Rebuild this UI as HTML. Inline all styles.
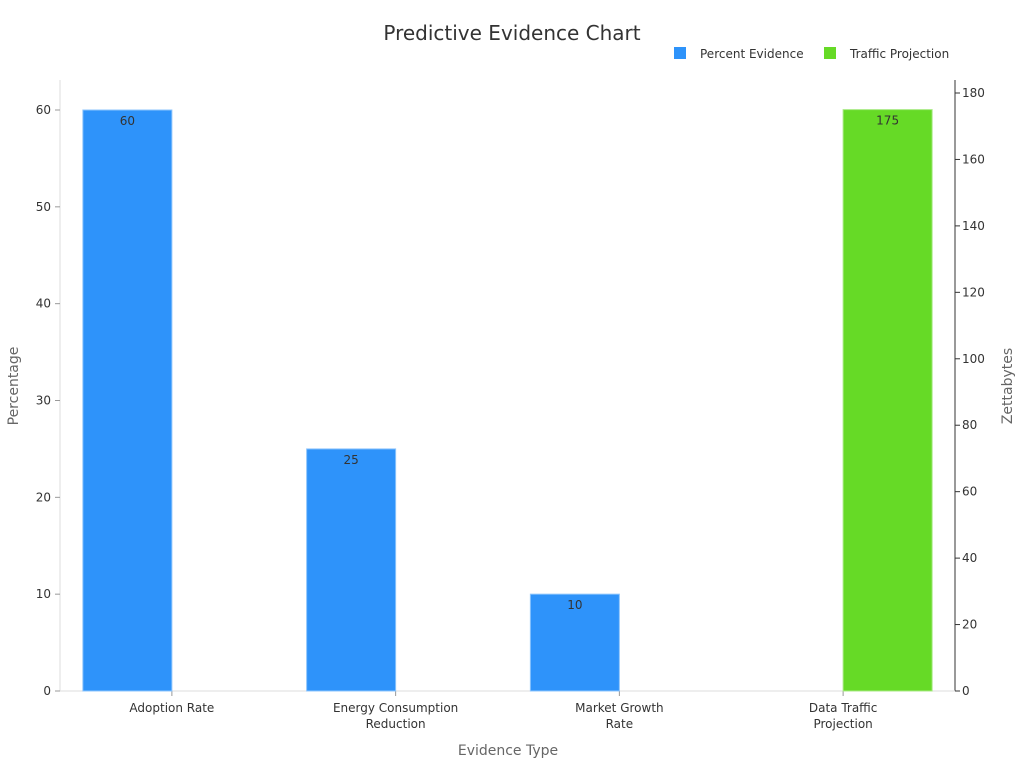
<!DOCTYPE html>
<html><head><meta charset="utf-8"><style>
body{margin:0;background:#fff;font-family:"Liberation Sans","DejaVu Sans",sans-serif;}
svg text{font-family:"DejaVu Sans","Liberation Sans",sans-serif;}
</style></head><body>
<svg id="c" width="1024" height="768">
<text x="512" y="40" text-anchor="middle" font-size="20" fill="#333">Predictive Evidence Chart</text>
<g>
<rect x="674" y="47" width="12" height="12" fill="#2e93fa"/>
<text x="700" y="58" font-size="12" fill="#333">Percent Evidence</text>
<rect x="824" y="47" width="12" height="12" fill="#66da26"/>
<text x="850" y="58" font-size="12" fill="#333">Traffic Projection</text>
</g>
<g id="plot"></g>
<text x="508" y="755" text-anchor="middle" font-size="14" fill="#666">Evidence Type</text>
<text transform="translate(18,386) rotate(-90)" text-anchor="middle" font-size="14" fill="#666">Percentage</text>
<text transform="translate(1012,386) rotate(-90)" text-anchor="middle" font-size="14" fill="#666">Zettabytes</text>
</svg>
<script>
const categories=[["Adoption Rate"],["Energy Consumption","Reduction"],["Market Growth","Rate"],["Data Traffic","Projection"]];
const percentValues=[60,25,10,0];
const trafficValues=[0,0,0,175];
const leftTicks=[0,10,20,30,40,50,60];
const rightTicks=[0,20,40,60,80,100,120,140,160,180];
const NS="http://www.w3.org/2000/svg";
const g=document.getElementById('plot');
const X0=60,X1=955,Y0=691;
const yL=v=>Y0-v*(581/60);
const yR=v=>Y0-v*(598/180);
const step=(X1-X0)/categories.length;
const cx=i=>X0+step*(i+0.5);
const bw=89;
function el(t,a,p){const e=document.createElementNS(NS,t);for(const k in a)e.setAttribute(k,a[k]);(p||g).appendChild(e);return e;}
let e;
e=el('line',{x1:X0,y1:80,x2:X0,y2:Y0,stroke:'#ddd'});


e=el('line',{x1:X1,y1:80,x2:X1,y2:Y0,stroke:'#333'});


e=el('line',{x1:X0,y1:Y0,x2:X1,y2:Y0,stroke:'#ddd'});


leftTicks.forEach(v=>{
 el('line',{x1:55,y1:yL(v),x2:X0,y2:yL(v),stroke:'#999'});
 e=el('text',{x:51,y:yL(v)+4,'text-anchor':'end','font-size':12,fill:'#333'});e.textContent=v;
 
 
});
rightTicks.forEach(v=>{
 el('line',{x1:X1,y1:yR(v),x2:X1+5,y2:yR(v),stroke:'#333'});
 e=el('text',{x:962,y:yR(v)+4,'font-size':12,fill:'#333'});e.textContent=v;
 
 
});
categories.forEach((c,i)=>{
 el('line',{x1:cx(i),y1:Y0,x2:cx(i),y2:Y0+5,stroke:'#999'});
 c.forEach((ln,j)=>{e=el('text',{x:cx(i),y:712+j*16,'text-anchor':'middle','font-size':12,fill:'#333'});e.textContent=ln;
 
 });
 if(percentValues[i]>0){
  const y=yL(percentValues[i]);
  e=el('rect',{x:cx(i)-bw,y:y,width:bw,height:Y0-y,fill:'#2e93fa',stroke:'#8cc4fc','stroke-width':1});
  
  
  e=el('text',{x:cx(i)-bw/2,y:y+15,'text-anchor':'middle','font-size':12,fill:'#333'});e.textContent=percentValues[i];
  
  
 }
 if(trafficValues[i]>0){
  const y=yR(trafficValues[i]);
  e=el('rect',{x:cx(i),y:y,width:bw,height:Y0-y,fill:'#66da26',stroke:'#a8ea84','stroke-width':1});
  
  
  e=el('text',{x:cx(i)+bw/2,y:y+15,'text-anchor':'middle','font-size':12,fill:'#333'});e.textContent=trafficValues[i];
  
  
 }
});
</script>
</body></html>
